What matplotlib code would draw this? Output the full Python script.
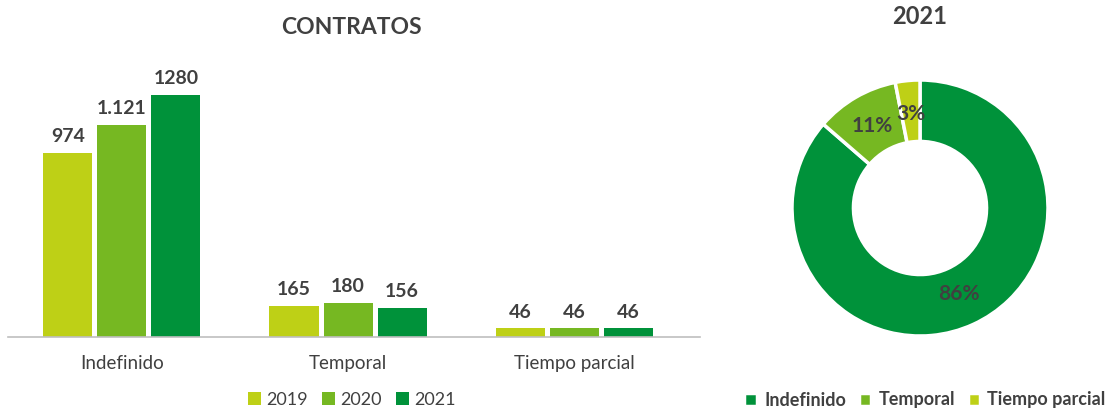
import matplotlib.pyplot as plt
import numpy as np

# data
categorias = ['Indefinido', 'Temporal', 'Tiempo parcial']
anios = ['2019', '2020', '2021']
valores_2019 = [974, 165, 46]
valores_2020 = [1121, 180, 46]
valores_2021 = [1280, 156, 46]
etiquetas_2019 = ['974', '165', '46']
etiquetas_2020 = ['1.121', '180', '46']
etiquetas_2021 = ['1280', '156', '46']

donut_labels = ['Indefinido', 'Temporal', 'Tiempo parcial']
donut_values = [1280, 156, 46]

colores = ['#BED016', '#76B822', '#00923A']
texto = '#404040'

plt.rcParams['font.family'] = ['Lato', 'DejaVu Sans']

W, H = 1113, 412
fig = plt.figure(figsize=(W / 100, H / 100), dpi=100)

#//////////////////// bar chart ////////////////////
ax = fig.add_axes([8 / W, (H - 337) / H, 692 / W, 277 / H])
x = np.arange(len(categorias))
ancho = 49 / 226
paso = 54 / 226
series = [valores_2019, valores_2020, valores_2021]
etiquetas = [etiquetas_2019, etiquetas_2020, etiquetas_2021]
for i, (vals, labs) in enumerate(zip(series, etiquetas)):
    pos = x + (i - 1) * paso
    ax.bar(pos, vals, width=ancho, color=colores[i], label=anios[i])
    for p, v, t in zip(pos, vals, labs):
        ax.text(p, v + 40, t, ha='center', va='bottom', fontsize=14,
                fontweight='bold', color=texto)

ax.set_xlim(-0.504, 2.557)
ax.set_ylim(0, 1465)
for s in ['top', 'right', 'left']:
    ax.spines[s].set_visible(False)
ax.spines['bottom'].set_color('#BFBFBF')
ax.spines['bottom'].set_linewidth(1.2)
ax.set_yticks([])
ax.set_xticks(x)
ax.set_xticklabels(categorias, fontsize=13.5, color=texto)
ax.tick_params(axis='x', length=0, pad=13)
fig.text(351 / W, 1 - 27 / H, 'CONTRATOS', ha='center', va='center',
         fontsize=16.5, fontweight='bold', color=texto)
ax.legend(loc='center', bbox_to_anchor=(352 / W, 1 - 400 / H),
          bbox_transform=fig.transFigure, ncol=3, frameon=False,
          fontsize=13, handlelength=0.7, handleheight=0.7,
          handletextpad=0.3, columnspacing=0.8, labelcolor=texto)

#//////////////////// donut ////////////////////
r = 128
ax2 = fig.add_axes([(920 - r) / W, (H - 208 - r) / H, 2 * r / W, 2 * r / H])
colores_donut = [colores[2], colores[1], colores[0]]
wedges, _, autotexts = ax2.pie(
    donut_values, colors=colores_donut, startangle=90, counterclock=False,
    autopct=lambda p: '%d%%' % round(p), pctdistance=0.74,
    wedgeprops=dict(width=0.48, edgecolor='white', linewidth=2.5),
    textprops=dict(fontsize=15, fontweight='bold', color=texto))
ax2.set_xlim(-1, 1)
ax2.set_ylim(-1, 1)
ax2.set_aspect('equal')
fig.text(920 / W, 1 - 16 / H, '2021', ha='center', va='center',
         fontsize=17, fontweight='bold', color=texto)
ax2.legend(wedges, donut_labels, loc='center',
           bbox_to_anchor=(925 / W, 1 - 400 / H), bbox_transform=fig.transFigure,
           ncol=3, frameon=False, handlelength=0.7, handleheight=0.7,
           handletextpad=0.4, columnspacing=0.7, labelcolor=texto,
           prop=dict(size=13, weight='bold'))

fig.savefig('out.png', dpi=100)
